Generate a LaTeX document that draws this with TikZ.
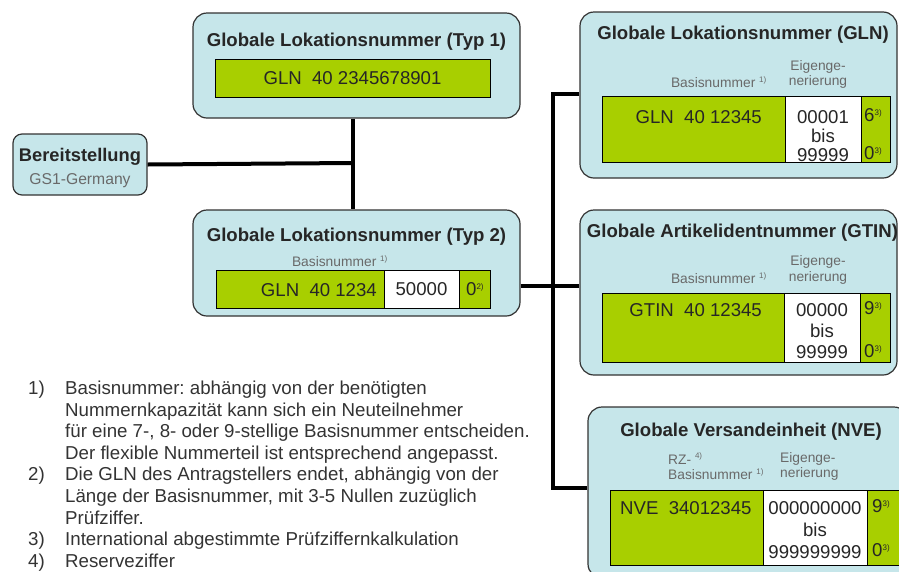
\documentclass[tikz,border=0pt]{standalone}
\usepackage{fontspec}
\setmainfont{Liberation Sans}
\usetikzlibrary{positioning}
\definecolor{kastenblau}{RGB}{198,230,234}
\definecolor{gsgruen}{RGB}{168,207,0}
\definecolor{grau}{RGB}{105,105,105}
\tikzstyle{kasten}=[rectangle,rounded corners=14pt,draw=black!80,fill=kastenblau,line width=1.2pt,inner sep=0pt]
\tikzstyle{feld}=[rectangle,draw=black,fill=gsgruen,line width=0.9pt,inner sep=0pt,outer sep=0pt]
\tikzstyle{frei}=[feld,fill=white]
\tikzstyle{titel}=[font=\fontsize{18.6}{20}\selectfont\bfseries,text=black!85,inner sep=0pt]
\tikzstyle{ziffer}=[font=\fontsize{18.6}{20}\selectfont,text=black!85,inner sep=0pt]
\tikzstyle{hinweis}=[font=\fontsize{13.8}{15.5}\selectfont,text=grau,inner sep=0pt,align=center]
\tikzstyle{leitung}=[line width=4pt]
\newcommand{\hoch}[1]{\textsuperscript{\fontsize{8}{8}\selectfont #1}}
\frenchspacing

\begin{document}
\begin{tikzpicture}[x=1pt,y=-1pt]
    \useasboundingbox (0,0) rectangle (899,571);
    \clip (0,0) rectangle (899,571);

    % Bereitstellung
    \node[kasten,rounded corners=9pt,minimum width=134pt,minimum height=61pt] (bereit) at (80,164.5) {};
    \node[titel,font=\fontsize{18.3}{20}\selectfont\bfseries] (bereittitel) at (80,157) {Bereitstellung};
    \node[hinweis,font=\fontsize{15.7}{18}\selectfont] (bereitgs) at (80,181) {GS1-Germany};

    % Typ 1
    \node[kasten,minimum width=327pt,minimum height=105pt] (typ1) at (356.5,65.5) {};
    \node[titel] (typ1titel) at (356.5,42) {Globale Lokationsnummer (Typ 1)};
    \node[feld,ziffer,minimum width=275pt,minimum height=38pt] (typ1nr) at (352.5,78) {GLN\ \ 40 2345678901};

    % Typ 2
    \node[kasten,minimum width=327pt,minimum height=106pt] (typ2) at (356.5,263) {};
    \node[titel] (typ2titel) at (356.5,237) {Globale Lokationsnummer (Typ 2)};
    \node[hinweis,anchor=east] (typ2hinweis) at (388,261) {Basisnummer \hoch{1)}};
    \node[feld,minimum width=168pt,minimum height=38pt,anchor=north west] (typ2basis) at (216,270) {};
    \node[frei,minimum width=75pt,minimum height=38pt,right=0pt of typ2basis] (typ2frei) {};
    \node[feld,minimum width=31pt,minimum height=38pt,right=0pt of typ2frei] (typ2pz) {};
    \node[ziffer,anchor=east] (typ2nr) at (377,290) {GLN\ \ 40 1234};
    \node[ziffer] (typ2lfd) at (typ2frei) {50000};
    \node[ziffer,anchor=west] (typ2null) at (466,289) {0\hoch{2)}};

    % GLN
    \node[kasten,minimum width=317pt,minimum height=166pt] (gln) at (738.5,95) {};
    \node[titel] (glntitel) at (743,35) {Globale Lokationsnummer (GLN)};
    \node[hinweis,anchor=east] (glnbasishw) at (767,82) {Basisnummer \hoch{1)}};
    \node[hinweis] (glneigenhw) at (818,74.5) {Eigenge-\\nerierung};
    \node[feld,minimum width=183pt,minimum height=66pt,anchor=north west] (glnbasis) at (602,96) {};
    \node[frei,minimum width=76pt,minimum height=66pt,right=0pt of glnbasis] (glnfrei) {};
    \node[feld,minimum width=29pt,minimum height=66pt,right=0pt of glnfrei] (glnpz) {};
    \node[ziffer,anchor=east] (glnnr) at (762,117) {GLN\ \ 40 12345};
    \node[ziffer,align=center,font=\fontsize{18.6}{19}\selectfont] (glnlfd) at (823,136) {00001\\bis\\99999};
    \node[ziffer,anchor=west] (glnpz1) at (864,115) {6\hoch{3)}};
    \node[ziffer,anchor=west] (glnpz2) at (864,153) {0\hoch{3)}};

    % GTIN
    \node[kasten,minimum width=317pt,minimum height=165pt] (gtin) at (738.5,292.5) {};
    \node[titel] (gtintitel) at (742.5,233) {Globale Artikelidentnummer (GTIN)};
    \node[hinweis,anchor=east] (gtinbasishw) at (767,278) {Basisnummer \hoch{1)}};
    \node[hinweis] (gtineigenhw) at (818,270) {Eigenge-\\nerierung};
    \node[feld,minimum width=182pt,minimum height=69pt,anchor=north west] (gtinbasis) at (602,293) {};
    \node[frei,minimum width=76pt,minimum height=69pt,right=0pt of gtinbasis] (gtinfrei) {};
    \node[feld,minimum width=30pt,minimum height=69pt,right=0pt of gtinfrei] (gtinpz) {};
    \node[ziffer,anchor=east] (gtinnr) at (762,310) {GTIN\ \ 40 12345};
    \node[ziffer,align=center,font=\fontsize{18.6}{21}\selectfont] (gtinlfd) at (822,331.5) {00000\\bis\\99999};
    \node[ziffer,anchor=west] (gtinpz1) at (864,308) {9\hoch{3)}};
    \node[ziffer,anchor=west] (gtinpz2) at (864,351) {0\hoch{3)}};

    % NVE
    \node[kasten,minimum width=320pt,minimum height=171pt] (nve) at (748,492.5) {};
    \node[titel] (nvetitel) at (751,432) {Globale Versandeinheit (NVE)};
    \node[hinweis,anchor=west,align=left] (nvebasishw) at (668,466.5) {RZ- \hoch{4)}\\Basisnummer \hoch{1)}};
    \node[hinweis,anchor=west,align=left] (nveeigenhw) at (780,466.5) {Eigenge-\\nerierung};
    \node[feld,minimum width=153pt,minimum height=75pt,anchor=north west] (nvebasis) at (610,490) {};
    \node[frei,minimum width=104pt,minimum height=75pt,right=0pt of nvebasis] (nvefrei) {};
    \node[feld,minimum width=43pt,minimum height=75pt,right=0pt of nvefrei] (nvepz) {};
    \node[ziffer,anchor=west] (nvenr) at (620,508) {NVE\ \ 34012345};
    \node[ziffer,align=center,font=\fontsize{18.6}{22}\selectfont] (nvelfd) at (815,530) {000000000\\bis\\999999999};
    \node[ziffer,anchor=west] (nvepz1) at (872,506) {9\hoch{3)}};
    \node[ziffer,anchor=west] (nvepz2) at (872,550) {0\hoch{3)}};

    % Verbindungen
    \coordinate (knick) at (353,163);
    \coordinate (oben) at (553,94);
    \coordinate (mitte) at (553,286);
    \coordinate (unten) at (553,488);
    \draw[leitung] (bereit.east) -- (knick);
    \draw[leitung] (typ1.south -| knick) -- (typ2.north -| knick);
    \draw[leitung] (typ2.east |- mitte) -- (gtin.west |- mitte);
    \draw[leitung] (gln.west |- oben) -- (oben) -- (unten) -- (nve.west |- unten);

    % Fussnoten
    \node[ziffer,anchor=base west,text=black!80,font=\fontsize{18.7}{21.6}\selectfont] (fussnoten) at (28,394.5) {%
      \begin{tabular}[t]{@{}p{37pt}@{}l@{}}
        1) & Basisnummer: abhängig von der benötigten\\
           & Nummernkapazität kann sich ein Neuteilnehmer\\
           & für eine 7-, 8- oder 9-stellige Basisnummer entscheiden.\\
           & Der flexible Nummerteil ist entsprechend angepasst.\\
        2) & Die GLN des Antragstellers endet, abhängig von der\\
           & Länge der Basisnummer, mit 3-5 Nullen zuzüglich\\
           & Prüfziffer.\\
        3) & International abgestimmte Prüfziffernkalkulation\\
        4) & Reserveziffer
      \end{tabular}};

\end{tikzpicture}
\end{document}
